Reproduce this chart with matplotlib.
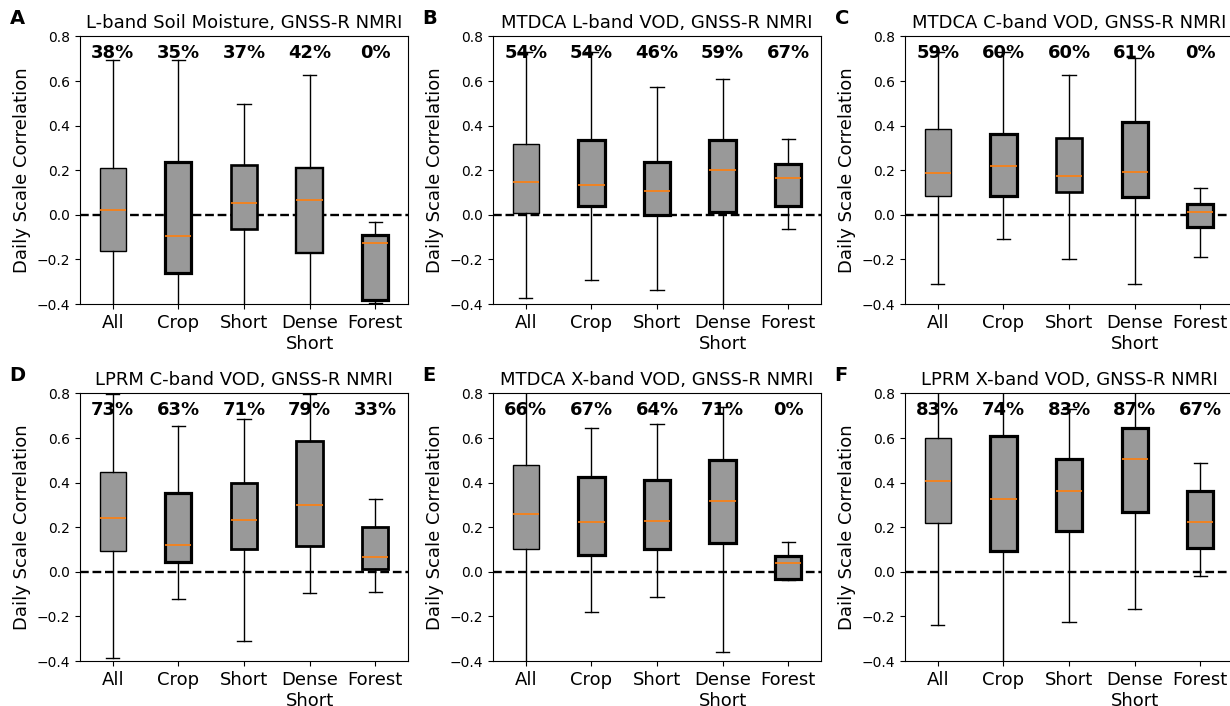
import numpy as np
import matplotlib.pyplot as plt

# categories and panel info
cats = ['All', 'Crop', 'Short', 'Dense\nShort', 'Forest']
titles = ['L-band Soil Moisture, GNSS-R NMRI', 'MTDCA L-band VOD, GNSS-R NMRI',
          'MTDCA C-band VOD, GNSS-R NMRI', 'LPRM C-band VOD, GNSS-R NMRI',
          'MTDCA X-band VOD, GNSS-R NMRI', 'LPRM X-band VOD, GNSS-R NMRI']
letters = ['A', 'B', 'C', 'D', 'E', 'F']

# percent of pixels significant
pct_A = [38, 35, 37, 42, 0]
pct_B = [54, 54, 46, 59, 67]
pct_C = [59, 60, 60, 61, 0]
pct_D = [73, 63, 71, 79, 33]
pct_E = [66, 67, 64, 71, 0]
pct_F = [83, 74, 83, 87, 67]

# box stats: lower whisker, q1, median, q3, upper whisker
lo_A = [-0.5, -0.5, -0.5, -0.5, -0.395]
q1_A = [-0.164, -0.259, -0.063, -0.172, -0.382]
med_A = [0.022, -0.097, 0.053, 0.065, -0.127]
q3_A = [0.211, 0.238, 0.222, 0.209, -0.090]
hi_A = [0.693, 0.693, 0.496, 0.626, -0.030]

lo_B = [-0.372, -0.292, -0.337, -0.5, -0.064]
q1_B = [0.008, 0.041, 0.001, 0.014, 0.041]
med_B = [0.148, 0.133, 0.107, 0.200, 0.167]
q3_B = [0.316, 0.334, 0.238, 0.334, 0.230]
hi_B = [0.73, 0.73, 0.571, 0.608, 0.338]

lo_C = [-0.310, -0.109, -0.199, -0.310, -0.189]
q1_C = [0.085, 0.083, 0.103, 0.080, -0.054]
med_C = [0.187, 0.220, 0.175, 0.194, 0.011]
q3_C = [0.383, 0.361, 0.346, 0.418, 0.050]
hi_C = [0.73, 0.73, 0.626, 0.704, 0.121]

lo_D = [-0.385, -0.122, -0.312, -0.095, -0.092]
q1_D = [0.094, 0.043, 0.104, 0.118, 0.014]
med_D = [0.242, 0.122, 0.231, 0.300, 0.065]
q3_D = [0.447, 0.353, 0.399, 0.589, 0.199]
hi_D = [0.797, 0.656, 0.685, 0.797, 0.326]

lo_E = [-0.5, -0.179, -0.114, -0.361, -0.035]
q1_E = [0.104, 0.074, 0.104, 0.130, -0.032]
med_E = [0.258, 0.224, 0.230, 0.318, 0.038]
q3_E = [0.478, 0.426, 0.411, 0.501, 0.070]
hi_E = [0.85, 0.646, 0.661, 0.74, 0.133]

lo_F = [-0.239, -0.5, -0.227, -0.165, -0.019]
q1_F = [0.221, 0.094, 0.184, 0.269, 0.109]
med_F = [0.407, 0.327, 0.362, 0.507, 0.224]
q3_F = [0.601, 0.609, 0.504, 0.646, 0.364]
hi_F = [0.85, 0.85, 0.729, 0.85, 0.490]

panels = [(pct_A, lo_A, q1_A, med_A, q3_A, hi_A),
          (pct_B, lo_B, q1_B, med_B, q3_B, hi_B),
          (pct_C, lo_C, q1_C, med_C, q3_C, hi_C),
          (pct_D, lo_D, q1_D, med_D, q3_D, hi_D),
          (pct_E, lo_E, q1_E, med_E, q3_E, hi_E),
          (pct_F, lo_F, q1_F, med_F, q3_F, hi_F)]

# box edge widths
box_lw = [[1.0, 2.3, 1.9, 1.7, 2.3],
          [1.0, 2.3, 2.3, 2.3, 2.3],
          [1.0, 2.3, 1.9, 2.3, 2.3],
          [1.0, 2.3, 2.0, 2.0, 2.0],
          [1.0, 2.3, 2.3, 2.3, 2.3],
          [1.0, 2.3, 2.3, 2.3, 2.3]]

fig = plt.figure(figsize=(12.3, 7.06), dpi=100)
lefts = [0.0650, 0.4008, 0.7358]
bottoms = [0.5694, 0.0637]

for k in range(6):
    pct, lo, q1, med, q3, hi = panels[k]
    ax = fig.add_axes([lefts[k % 3], bottoms[k // 3], 0.2667, 0.379])
    ax.axhline(0, color='k', ls='--', lw=1.7, zorder=1)
    stats = []
    for i in range(len(cats)):
        stats.append(dict(med=med[i], q1=q1[i], q3=q3[i], whislo=lo[i], whishi=hi[i], label=cats[i]))
    bp = ax.bxp(stats, showfliers=False, patch_artist=True, widths=0.4,
                boxprops=dict(facecolor='#999999', edgecolor='k'),
                medianprops=dict(color='#ff7f0e', lw=1.2))
    for i, b in enumerate(bp['boxes']):
        b.set_linewidth(box_lw[k][i])
    for i in range(len(cats)):
        ax.text(i + 1, 0.703, '%d%%' % pct[i], ha='center', va='baseline',
                fontsize=13, fontweight='bold')
    ax.set_ylim(-0.4, 0.8)
    ax.set_xlim(0.5, 5.5)
    ax.set_yticks([-0.4, -0.2, 0.0, 0.2, 0.4, 0.6, 0.8])
    ax.tick_params(axis='y', labelsize=10)
    ax.tick_params(axis='x', labelsize=13)
    ax.set_ylabel('Daily Scale Correlation', fontsize=13)
    ax.set_title(titles[k], fontsize=13)
    ax.text(-0.215, 1.03, letters[k], transform=ax.transAxes, fontsize=14,
            fontweight='bold', va='bottom', ha='left')

fig.savefig('out.png', dpi=100)
